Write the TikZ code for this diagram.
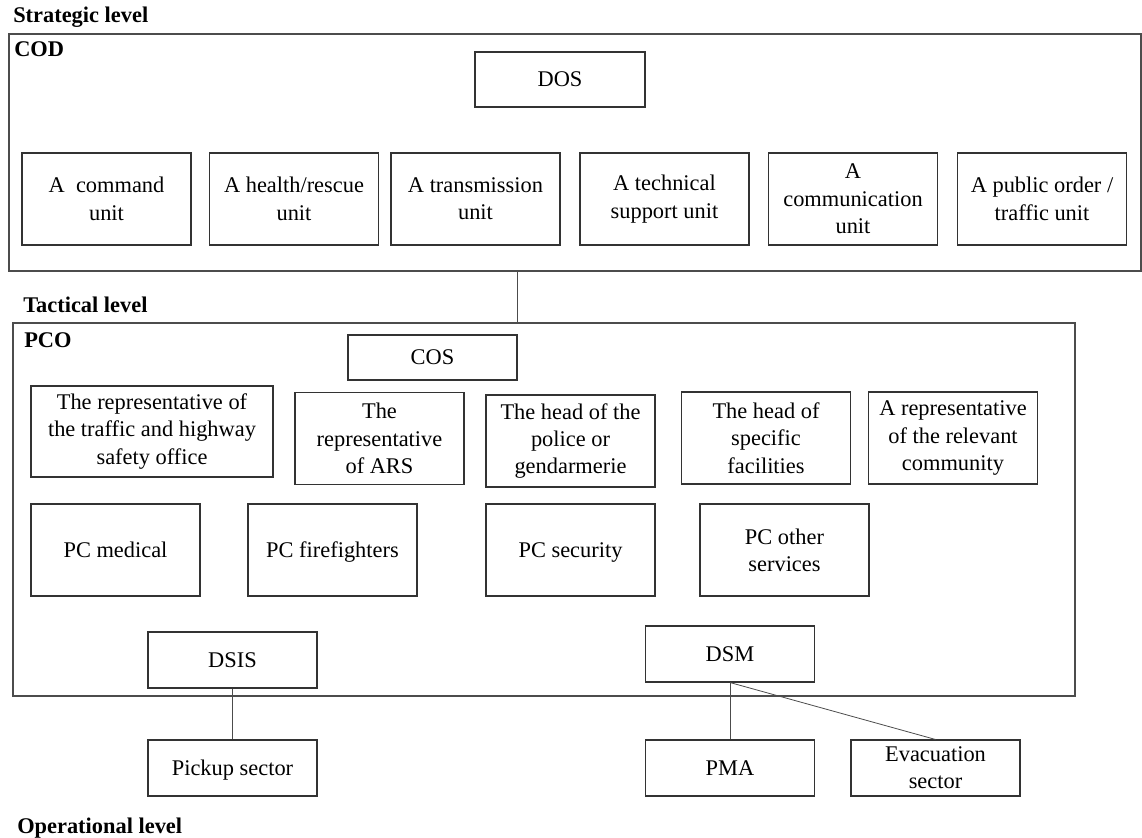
\documentclass[tikz,border=0pt]{standalone}
\usepackage{fontspec}
\setmainfont{Liberation Serif}
\begin{document}
\begin{tikzpicture}[x=0.75pt, y=-0.75pt,
    box/.style={draw=black!80, line width=0.8pt, align=center, inner sep=0pt,
      font=\fontsize{16.8}{20.5}\selectfont},
    tall/.style={box, minimum width=126.75pt, minimum height=69pt},
    flat/.style={box, minimum width=126.75pt, minimum height=42pt},
    single/.style={text height=11.6pt, text depth=0.4pt},
    level/.style={anchor=base west, inner sep=0pt, font=\fontsize{16.8}{21}\selectfont\bfseries},
    frame/.style={draw=black!70, line width=1.1pt}]
    \useasboundingbox (0,0) rectangle (1142,838);
    %------------Strategic level----------
    \node[level] (strat) at (13,23) {Strategic level};
    \draw[frame] (9,34) rectangle (1141,271);
    \node[level] (cod) at (14,57) {COD};
    \node[box, single, minimum width=127.5pt, minimum height=41.25pt] (dos) at (560,79.5) {DOS};
    \node[tall] (cmd)   at (106.5,199) {A\ \ command\\unit};
    \node[tall] (hlth)  at (294,199)   {A health/rescue\\unit};
    \node[tall] (trans) at (475.5,199) {A transmission\\unit};
    \node[tall] (tech)  at (664.5,199) {A technical\\support unit};
    \node[tall] (comm)  at (853,199)   {A\\communication\\unit};
    \node[tall] (pub)   at (1042,199)  {A public order /\\traffic unit};
    %------------Tactical level----------
    \coordinate (codb) at (517,271);
    \coordinate (pcot) at (517,323);
    \draw[draw=black!70, line width=0.6pt] (codb) -- (pcot);
    \node[level] (tact) at (23,312) {Tactical level};
    \draw[frame] (13,323) rectangle (1075,696);
    \node[level] (pco) at (24,347) {PCO};
    \node[box, single, minimum width=126.75pt, minimum height=33.75pt] (cos) at (432.5,357.5) {COS};
    \node[box, minimum width=181.5pt, minimum height=68.25pt] (traf) at (152,431.5)
      {The representative of\\the traffic and highway\\safety office};
    \node[tall] (ars)  at (379.5,438.5) {The\\representative\\of ARS};
    \node[tall] (pol)  at (570.5,441)   {The head of the\\police or\\gendarmerie};
    \node[tall] (fac)  at (766,438)     {The head of\\specific\\facilities};
    \node[tall] (rep)  at (953,438)     {A representative\\of the relevant\\community};
    \node[tall, single] (med)  at (115.5,550) {PC medical};
    \node[tall, single] (fire) at (332.5,550) {PC firefighters};
    \node[tall, single] (sec)  at (570.5,550) {PC security};
    \node[tall] (oth)  at (784.5,550)   {PC other\\services};
    \node[flat, single] (dsis) at (232.5,660) {DSIS};
    \node[flat, single] (dsm)  at (730,654)   {DSM};
    %------------Operational level----------
    \node[flat, single] (pick) at (232.5,768) {Pickup sector};
    \node[flat, single] (pma)  at (730,768)   {PMA};
    \node[flat] (evac) at (935.5,768)   {Evacuation\\sector};
    \draw[draw=black!70, line width=0.6pt] (dsis) -- (pick);
    \draw[draw=black!70, line width=0.6pt] (dsm) -- (pma);
    \draw[draw=black!70, line width=0.6pt] (dsm.south) -- (evac.north);
    \node[level] (oper) at (17,833) {Operational level};
\end{tikzpicture}
\end{document}
